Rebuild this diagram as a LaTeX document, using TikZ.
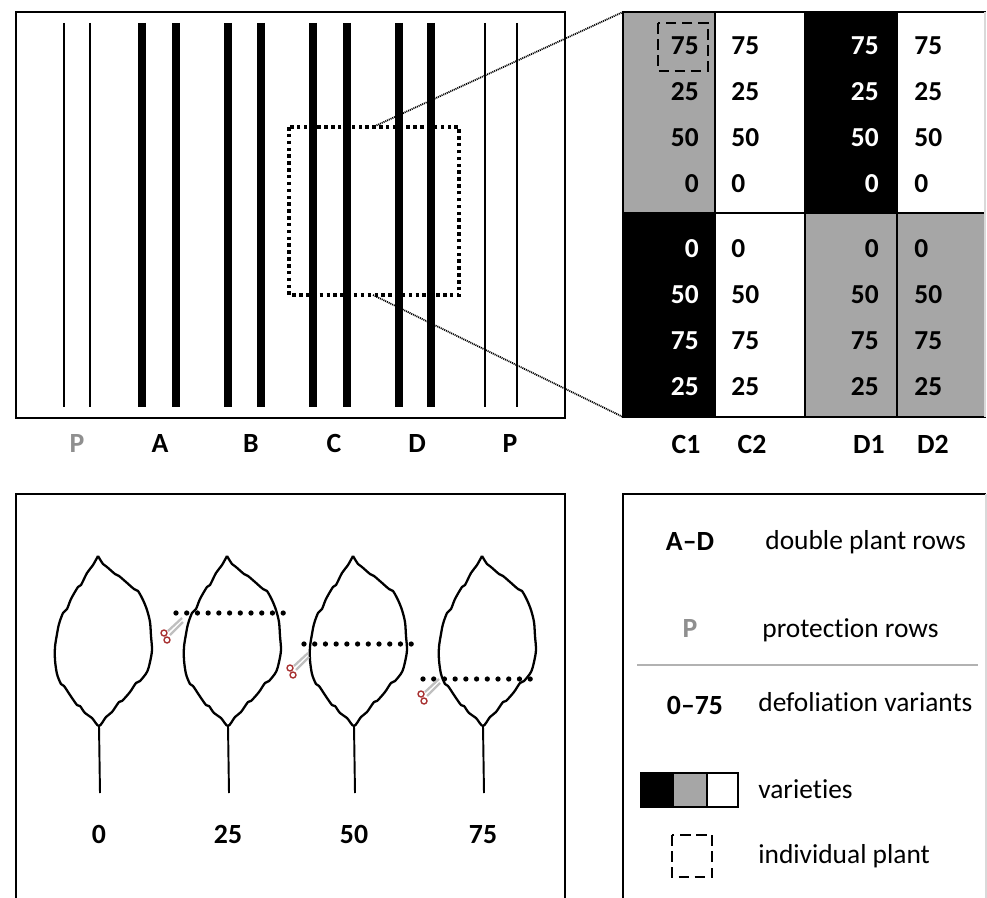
\documentclass[tikz,border=0pt]{standalone}
\usepackage{fontspec}
\setmainfont{Carlito}[Ligatures=CommonOff]

\definecolor{vargray}{HTML}{A6A6A6}
\definecolor{pgray}{HTML}{8F8F8F}
\definecolor{cutred}{HTML}{A83232}

\tikzset{
  frame/.style={line width=1.1pt},
  plantrow/.style={line width=4pt},
  protrow/.style={line width=1.1pt},
  zoombox/.style={line width=2pt, dash pattern=on 2pt off 1.9pt},
  zoomline/.style={line width=1pt, dash pattern=on 0.6pt off 0.5pt},
  cell/.style={line width=0.8pt},
  val/.style={font=\fontsize{15.6}{18}\selectfont\bfseries, inner sep=0pt},
  lbl/.style={font=\fontsize{15.8}{18}\selectfont\bfseries, inner sep=0pt, anchor=base},
  txt/.style={inner sep=0pt, anchor=base west},
  plantbox/.style={line width=1.3pt, dash pattern=on 6pt off 3.2pt},
  cutline/.style={line width=3pt, line cap=round, dash pattern=on 0pt off 6.1pt},
  leafline/.style={line width=1.3pt, line join=round},
  % leaf outline with a slightly ragged edge, stem below
  pics/leaf/.style={code={
    \draw[leafline] plot[smooth, tension=0.5] coordinates {(0,-84) (5,-76) (9,-73)
      (17,-66) (21,-64) (28,-58) (36,-51) (40,-49) (45,-40) (49,-30) (52,-18)
      (53,-4) (54,10) (52,22) (49,32) (42,41) (38,43) (32,52) (24,61) (21,62)
      (14,72) (8,77) (1,86) (-6,78) (-13,73) (-18,66) (-21,65) (-28,55) (-34,46)
      (-37,44) (-41,34) (-43,20) (-43,7) (-41,-6) (-39,-16) (-35,-27) (-31,-31)
      (-27,-41) (-20,-53) (-17,-55) (-11,-67) (-5,-75) (0,-84)};
    \draw[line width=1.1pt] (1,86) -- (2,153);
  }},
  pics/scissors/.style={code={
    \draw[gray!50, line width=1.3pt] (4,-2) -- (18,-15);
    \draw[gray!50, line width=1.3pt] (6,2) -- (19,-11);
    \draw[cutred, line width=0.8pt] (0,0) circle[radius=1.7pt] (3,7) circle[radius=1.7pt];
  }},
}

\begin{document}
\begin{tikzpicture}[x=0.02cm, y=-0.02cm, font=\fontsize{15.6}{18}\selectfont]
  \useasboundingbox (0,0) rectangle (987,898);

  % field with the double rows
  \draw[frame] (16,12) rectangle (565,418);
  \foreach \x in {64,90,485,517}
    \draw[protrow] (\x,23) -- (\x,407);
  \foreach \x in {142,176,228,261,313,347,399,431}
    \draw[plantrow] (\x,23) -- (\x,407);
  \node[lbl, text=pgray] (pl) at (77,452) {P};
  \node[lbl] (ra) at (160,452) {A};
  \node[lbl] (rb) at (251,452) {B};
  \node[lbl] (rc) at (334,452) {C};
  \node[lbl] (rd) at (417,452) {D};
  \node[lbl] (pr) at (510,452) {P};

  % zoomed part
  \draw[zoombox] (289,127) rectangle (459,295);
  \coordinate (zt) at (373,127);
  \coordinate (zb) at (373,295);
  \coordinate (gtl) at (623,12);
  \coordinate (gbl) at (623,417);
  \draw[zoomline] (zt) -- (gtl);
  \draw[zoomline] (zb) -- (gbl);

  % plots C1 C2 D1 D2
  \fill[vargray] (623,12) rectangle (715,213);
  \fill[black] (805,12) rectangle (897,213);
  \fill[black] (623,213) rectangle (715,417);
  \fill[vargray] (805,213) rectangle (986,417);
  \draw[cell] (986,12) -- (623,12) -- (623,417) -- (986,417);
  \draw[cell] (623,213) -- (986,213);
  \foreach \x in {715,805,897}
    \draw[cell] (\x,12) -- (\x,417);
  \draw[black!15, line width=0.6pt] (985,12) -- (985,417);

  \foreach \v [count=\i] in {75,25,50,0} {
    \pgfmathsetmacro\yb{55+46*(\i-1)}
    \node[val, anchor=base east] (ct\i) at (699,\yb) {\v};
    \node[val, anchor=base west] (cu\i) at (731,\yb) {\v};
    \node[val, anchor=base east, text=white] (dt\i) at (879,\yb) {\v};
    \node[val, anchor=base west] (du\i) at (914,\yb) {\v};
  }
  \foreach \v [count=\i] in {0,50,75,25} {
    \pgfmathsetmacro\yb{258+45.7*(\i-1)}
    \node[val, anchor=base east, text=white] (cb\i) at (699,\yb) {\v};
    \node[val, anchor=base west] (cv\i) at (731,\yb) {\v};
    \node[val, anchor=base east] (db\i) at (879,\yb) {\v};
    \node[val, anchor=base west] (dv\i) at (914,\yb) {\v};
  }
  \draw[plantbox] (658,23) rectangle (708,71);

  \node[lbl] (c1) at (686,453) {C1};
  \node[lbl] (c2) at (752,453) {C2};
  \node[lbl] (d1) at (869,453) {D1};
  \node[lbl] (d2) at (933,453) {D2};

  % leaves and cuts
  \draw[frame] (16,898) -- (16,494) -- (565,494) -- (565,898);
  \foreach \x/\v in {98/0,227/25,353/50,482/75} {
    \pic at (\x,640) {leaf};
    \node[lbl] (leaf\v) at (\x+1,843) {\v};
  }
  \draw[cutline] (176,613) -- (284,613);
  \draw[cutline] (304,644) -- (412,644);
  \draw[cutline] (423,679) -- (531,679);
  \pic at (164,633) {scissors};
  \pic at (290,668) {scissors};
  \pic at (421,694) {scissors};

  % legend
  \draw[frame] (623,898) -- (623,494) -- (986,494);
  \draw[black!15, line width=0.6pt] (986,494) -- (986,898);
  \node[lbl] (kad) at (690,550) {A–D};
  \node[txt] (tad) at (765,549) {double plant rows};
  \node[lbl, text=pgray] (kp) at (690,637) {P};
  \node[txt] (tp) at (762,637) {protection rows};
  \draw[gray!60, line width=0.6pt] (637,665) -- (978,665);
  \node[lbl] (kv) at (695,714) {0–75};
  \node[txt] (tv) at (758,711) {defoliation variants};
  \draw[cell, fill=black] (641,773) rectangle (673,807);
  \draw[cell, fill=vargray] (673,773) rectangle (707,807);
  \draw[cell, fill=white] (707,773) rectangle (738,807);
  \node[txt] (tvar) at (758,798) {varieties};
  \draw[plantbox] (672,835) rectangle (712,877);
  \node[txt] (tind) at (758,863) {individual plant};
\end{tikzpicture}
\end{document}
